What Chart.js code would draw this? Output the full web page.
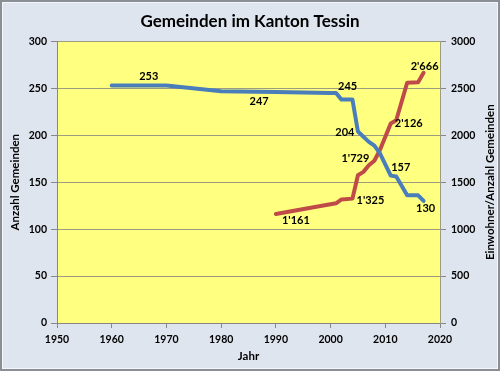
<!DOCTYPE html>
<html>
<head>
<meta charset="utf-8">
<script src="https://cdn.jsdelivr.net/npm/chart.js@4.4.1/dist/chart.umd.min.js"></script>
<style>
  html, body { margin: 0; padding: 0; background: #dfe5ee; }
  canvas { display: block; }
</style>
</head>
<body>
<canvas id="gemeindenChart" width="500" height="371"></canvas>
<script>
// Anzahl Gemeinden (linke Achse)
const gemJahre  = [1960, 1970, 1980, 1990, 2000, 2001, 2002, 2004, 2005, 2007, 2008, 2009, 2011, 2012, 2014, 2016, 2017];
const gemAnzahl = [253, 253, 247, 246, 245, 245, 238, 238, 204, 193, 189, 181, 157, 156, 136, 136, 130];

// Einwohner pro Gemeinde (rechte Achse)
const einwJahre  = [1990, 2001, 2002, 2004, 2005, 2006, 2007, 2008, 2009, 2011, 2012, 2014, 2016, 2017];
const einwProGem = [1161, 1275, 1316, 1325, 1574, 1610, 1680, 1729, 1840, 2126, 2160, 2560, 2566, 2666];

// Achsen
const xTicks  = [1950, 1960, 1970, 1980, 1990, 2000, 2010, 2020];
const yTicks  = [0, 50, 100, 150, 200, 250, 300];
const y1Ticks = [0, 500, 1000, 1500, 2000, 2500, 3000];

// Beschriftete Punkte: Index in der Reihe + Versatz der Beschriftung
const gemLabels = [
    { i: 0,  dx: 37,  dy: -9 },
    { i: 2,  dx: 38,  dy: 10 },
    { i: 4,  dx: 17,  dy: -7 },
    { i: 8,  dx: -13, dy: 1 },
    { i: 12, dx: 10,  dy: -8 },
    { i: 16, dx: 2,   dy: 7 }
];
const einwLabels = [
    { i: 0,  dx: 20,  dy: 6 },
    { i: 3,  dx: 18,  dy: 2 },
    { i: 7,  dx: -19, dy: -2 },
    { i: 9,  dx: 18,  dy: 0 },
    { i: 13, dx: 1,   dy: -6 }
];

const FONT = "Lato, 'Open Sans', sans-serif";
const RIGHT_TITLE = "Einwohner/Anzahl Gemeinden";

function formatCH(v) {
    return String(v).replace(/\B(?=(\d{3})+(?!\d))/g, "'");
}

function toPoints(xs, ys) {
    return xs.map((x, k) => ({ x: x, y: ys[k] }));
}

// Hintergrund, gelbe Zeichenfläche, Rahmen, rechter Achsentitel
const backgroundPlugin = {
    id: "background",
    beforeDraw(chart) {
        const { ctx, chartArea: a } = chart;
        ctx.save();
        ctx.fillStyle = "#dfe5ee";
        ctx.fillRect(0, 0, chart.width, chart.height);
        ctx.fillStyle = "#ffff80";
        ctx.fillRect(a.left, a.top, a.right - a.left, a.bottom - a.top);
        ctx.restore();
    },
    afterDraw(chart) {
        const { ctx, chartArea: a } = chart;
        ctx.save();
        // rechter Titel, von unten nach oben gelesen wie in Excel
        ctx.translate(a.right + 50, (a.top + a.bottom) / 2);
        ctx.rotate(-Math.PI / 2);
        ctx.font = "bold 11.5px " + FONT;
        ctx.fillStyle = "#000";
        ctx.textAlign = "center";
        ctx.textBaseline = "middle";
        ctx.fillText(RIGHT_TITLE, 0, 0);
        ctx.restore();

        ctx.save();
        ctx.strokeStyle = "#8a8f96";
        ctx.lineWidth = 2;
        ctx.strokeRect(1, 1, chart.width - 2, chart.height - 2);
        ctx.strokeStyle = "#f4f6fa";
        ctx.lineWidth = 1;
        ctx.strokeRect(2.5, 2.5, chart.width - 5, chart.height - 5);
        ctx.restore();
    }
};

// Werte an ausgewählten Punkten
const pointLabelPlugin = {
    id: "pointLabels",
    afterDatasetsDraw(chart) {
        const ctx = chart.ctx;
        const sets = [
            { meta: chart.getDatasetMeta(0), values: gemAnzahl, labels: gemLabels },
            { meta: chart.getDatasetMeta(1), values: einwProGem, labels: einwLabels }
        ];
        ctx.save();
        ctx.font = "bold 11px " + FONT;
        ctx.fillStyle = "#000";
        ctx.textAlign = "center";
        ctx.textBaseline = "middle";
        sets.forEach(s => {
            s.labels.forEach(l => {
                const pt = s.meta.data[l.i];
                ctx.fillText(formatCH(s.values[l.i]), pt.x + l.dx, pt.y + l.dy);
            });
        });
        ctx.restore();
    }
};

const tickFont = { family: FONT, size: 10.5, weight: "bold" };
const titleFont = { family: FONT, size: 11.5, weight: "bold" };

new Chart(document.getElementById("gemeindenChart"), {
    type: "line",
    data: {
        datasets: [
            {
                label: "Anzahl Gemeinden",
                data: toPoints(gemJahre, gemAnzahl),
                yAxisID: "y",
                borderColor: "#4a7ebb",
                borderWidth: 4,
                borderJoinStyle: "round",
                borderCapStyle: "round",
                pointRadius: 0,
                tension: 0
            },
            {
                label: RIGHT_TITLE,
                data: toPoints(einwJahre, einwProGem),
                yAxisID: "y1",
                borderColor: "#be4b48",
                borderWidth: 4,
                borderJoinStyle: "round",
                borderCapStyle: "round",
                pointRadius: 0,
                tension: 0
            }
        ]
    },
    options: {
        responsive: false,
        animation: false,
        layout: { padding: { left: 0, right: 0, top: 0, bottom: 0 } },
        plugins: {
            legend: { display: false },
            tooltip: { enabled: false },
            title: {
                display: true,
                text: "Gemeinden im Kanton Tessin",
                color: "#000",
                font: { family: FONT, size: 17, weight: "bold" },
                padding: { top: 11, bottom: 10 }
            }
        },
        scales: {
            x: {
                type: "linear",
                min: xTicks[0],
                max: xTicks[xTicks.length - 1],
                afterBuildTicks: s => { s.ticks = xTicks.map(v => ({ value: v })); },
                afterFit: s => { s.height = 48; },
                ticks: { color: "#000", font: tickFont, padding: 5, maxRotation: 0, callback: v => String(v) },
                grid: { drawOnChartArea: false, drawTicks: true, tickLength: 5, color: "#868686" },
                border: { color: "#868686" },
                title: { display: true, text: "Jahr", color: "#000", font: titleFont, padding: { top: 1, bottom: 8 } }
            },
            y: {
                position: "left",
                min: 0,
                max: 300,
                afterBuildTicks: s => { s.ticks = yTicks.map(v => ({ value: v })); },
                afterFit: s => { s.width = 57; },
                ticks: { color: "#000", font: tickFont, padding: 4, callback: v => String(v) },
                grid: { color: "#9c9c80", tickLength: 6, tickColor: "#868686" },
                border: { color: "#868686" },
                title: { display: true, text: "Anzahl Gemeinden", color: "#000", font: titleFont, padding: { top: 8, bottom: 0 } }
            },
            y1: {
                position: "right",
                min: 0,
                max: 3000,
                afterBuildTicks: s => { s.ticks = y1Ticks.map(v => ({ value: v })); },
                afterFit: s => { s.width = 60; },
                ticks: { color: "#000", font: tickFont, padding: 5, callback: v => String(v) },
                grid: { drawOnChartArea: false, tickLength: 6, color: "#868686" },
                border: { color: "#9c9c80" }
            }
        }
    },
    plugins: [backgroundPlugin, pointLabelPlugin]
});
</script>
</body>
</html>
